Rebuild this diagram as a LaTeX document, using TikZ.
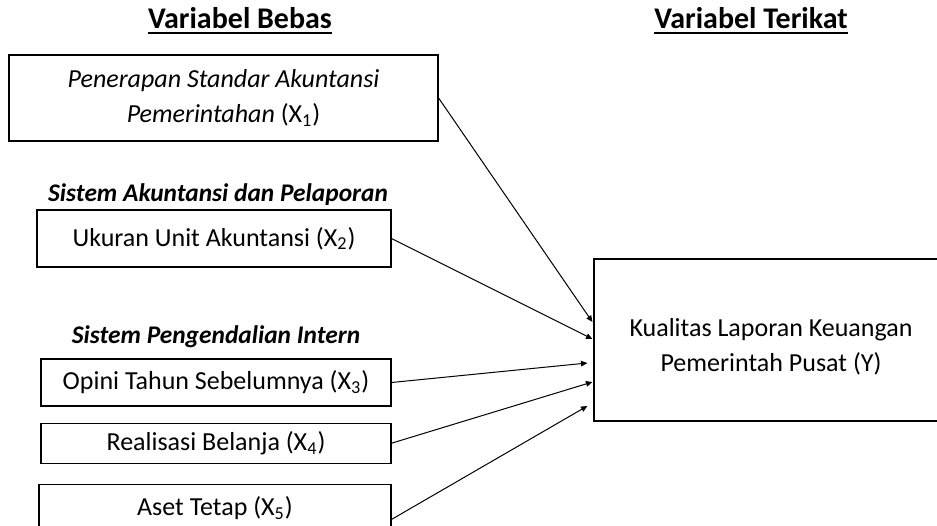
\documentclass[tikz,border=0pt]{standalone}
\usepackage{fontspec}
\setmainfont{Carlito}
\usepackage{tikz}
\usetikzlibrary{positioning,arrows.meta}

\begin{document}
\begin{tikzpicture}[
  node distance=8pt,
  box/.style={draw, line width=0.6pt, align=center, inner sep=2pt, font=\fontsize{13pt}{17.5pt}\selectfont},
  head/.style={font=\fontsize{15pt}{18pt}\selectfont\bfseries, anchor=base, inner sep=0pt},
  grp/.style={font=\fontsize{12.7pt}{17pt}\selectfont\bfseries\itshape, inner sep=0pt},
  uline/.style={line width=1pt},
  arr/.style={-{Triangle[length=3.2pt, width=2.8pt]}, line width=0.5pt}
]
  \useasboundingbox (0,0) rectangle (468.5pt,262.5pt);
  \clip (0,0) rectangle (468.5pt,262.5pt);
  \node[head] (bebas) at (120pt,248pt) {Variabel Bebas};
  \node[head] (terikat) at (375.5pt,248pt) {Variabel Terikat};
  \draw[uline] ([yshift=-2pt]bebas.base west) -- ([yshift=-2pt]bebas.base east);
  \draw[uline] ([yshift=-2pt]terikat.base west) -- ([yshift=-2pt]terikat.base east);
  \node[box, minimum width=214.5pt, minimum height=43pt] (x1) at (111.75pt,213.5pt)
    {\textit{Penerapan Standar Akuntansi}\\\textit{Pemerintahan} (X\textsubscript{1})};
  \node[box, minimum width=177pt, minimum height=28.5pt] (x2) at (107pt,143.25pt)
    {Ukuran Unit Akuntansi (X\textsubscript{2})};
  \node[grp, above=4pt of x2.north, anchor=base, xshift=2pt] (sap) {Sistem Akuntansi dan Pelaporan};
  \node[box, minimum width=175pt, minimum height=23.5pt] (x3) at (108pt,71.25pt)
    {Opini Tahun Sebelumnya (X\textsubscript{3})};
  \node[grp, above=7.5pt of x3.north, anchor=base] (spi) {Sistem Pengendalian Intern};
  \node[box, minimum width=175pt, minimum height=20pt, below=of x3] (x4)
    {Realisasi Belanja (X\textsubscript{4})};
  \node[box, minimum width=176pt, minimum height=24pt, below=10pt of x4.south east, anchor=north east] (x5)
    {Aset Tetap (X\textsubscript{5})};
  \node[box, minimum width=177pt, minimum height=81pt] (y) at (385.5pt,92.5pt)
    {\rule{0pt}{16pt}Kualitas Laporan Keuangan\\Pemerintah Pusat (Y)};
  % arrow ends along the left side of y
  \coordinate (y1) at ([shift={(-0.5pt,9pt)}]y.west);
  \coordinate (y2) at ([shift={(-0.5pt,0.5pt)}]y.west);
  \coordinate (y3) at ([shift={(-3pt,-11.5pt)}]y.west);
  \coordinate (y4) at ([shift={(-0.5pt,-21pt)}]y.west);
  \coordinate (y5) at ([shift={(-3pt,-33pt)}]y.west);
  \draw[arr] (x1.east) -- (y1);
  \draw[arr] (x2.east) -- (y2);
  \draw[arr] (x3.east) -- (y3);
  \draw[arr] (x4.east) -- (y4);
  \draw[arr] ([yshift=-5.5pt]x5.east) -- (y5);
\end{tikzpicture}
\end{document}
